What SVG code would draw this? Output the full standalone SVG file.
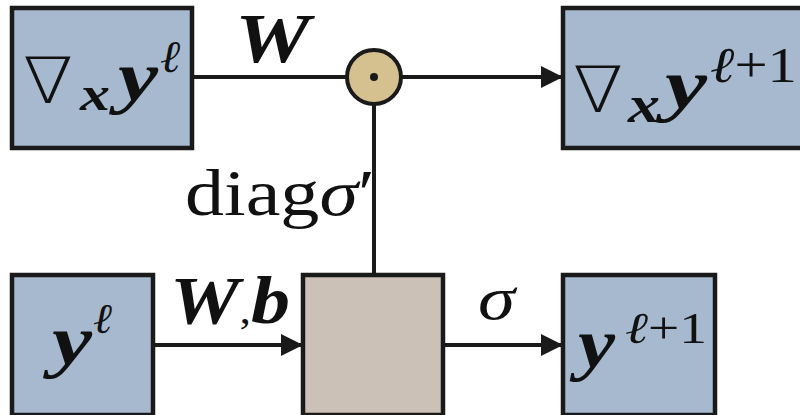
<svg xmlns="http://www.w3.org/2000/svg" width="800" height="415" viewBox="0 0 800 415">
<style>
.box{fill:#a6b9cf;stroke:#1a1a1a;stroke-width:4.5}
.op{fill:#cbc1b7;stroke:#1a1a1a;stroke-width:4.5}
.ln{stroke:#1a1a1a;stroke-width:4;fill:none}
.t{font-family:"Liberation Serif","DejaVu Serif",serif;fill:#111}
.nab{font-family:"DejaVu Sans","Liberation Serif",sans-serif;font-weight:200;fill:#111}
.bi{font-weight:bold;font-style:italic}
.it{font-style:italic}
</style>
<defs>
<marker id="ah" markerWidth="22" markerHeight="22" refX="21" refY="11" orient="auto" markerUnits="userSpaceOnUse">
<path d="M0,0 L22,11 L0,22 Z" fill="#1a1a1a"/>
</marker>
</defs>
<rect width="800" height="415" fill="#fff"/>
<g id="connectors">
<line class="ln" x1="192" y1="77" x2="346" y2="77"/>
<line class="ln" x1="402" y1="77" x2="562" y2="77" marker-end="url(#ah)"/>
<line class="ln" x1="374" y1="104" x2="374" y2="275"/>
<line class="ln" x1="153" y1="345" x2="302" y2="345" marker-end="url(#ah)"/>
<line class="ln" x1="443" y1="345" x2="562" y2="345" marker-end="url(#ah)"/>
<text class="t bi" x="235" y="62" font-size="70" textLength="75" lengthAdjust="spacingAndGlyphs">W</text>
<text class="t" x="185" y="215" font-size="66" textLength="190" lengthAdjust="spacingAndGlyphs">diag<tspan class="it">σ</tspan>′</text>
<text class="t bi" x="170" y="323" font-size="68" textLength="120" lengthAdjust="spacingAndGlyphs">W<tspan font-style="normal" font-weight="normal" font-size="40">,</tspan>b</text>
<text class="t it" x="478" y="319" font-size="62" textLength="37" lengthAdjust="spacingAndGlyphs">σ</text>
</g>
<g id="grad-y-l">
<rect class="box" x="12" y="8" width="180" height="140"/>
<text class="nab" x="23" y="103" font-size="64" textLength="50" lengthAdjust="spacingAndGlyphs">∇</text>
<text class="t bi" x="80" y="110" font-size="48" textLength="30" lengthAdjust="spacingAndGlyphs">x</text>
<text class="t bi" x="118" y="100" font-size="70" textLength="40" lengthAdjust="spacingAndGlyphs">y</text>
<text class="t it" x="160" y="72" font-size="45" textLength="20" lengthAdjust="spacingAndGlyphs">ℓ</text>
</g>
<g id="hadamard">
<circle cx="374" cy="77" r="27" fill="#d5c08f" stroke="#1a1a1a" stroke-width="4"/>
<circle cx="374" cy="77" r="4" fill="#1a1a1a"/>
</g>
<g id="grad-y-l1">
<rect class="box" x="563" y="8" width="250" height="140"/>
<text class="nab" x="573" y="112" font-size="64" textLength="50" lengthAdjust="spacingAndGlyphs">∇</text>
<text class="t bi" x="628" y="122" font-size="52" textLength="32" lengthAdjust="spacingAndGlyphs">x</text>
<text class="t bi" x="665" y="108" font-size="70" textLength="42" lengthAdjust="spacingAndGlyphs">y</text>
<text class="t" x="710" y="82" font-size="50" textLength="87" lengthAdjust="spacingAndGlyphs"><tspan class="it">ℓ</tspan>+1</text>
</g>
<g id="y-l">
<rect class="box" x="12" y="275" width="141" height="140"/>
<text class="t bi" x="52" y="364" font-size="70" textLength="40" lengthAdjust="spacingAndGlyphs">y</text>
<text class="t it" x="93" y="333" font-size="42" textLength="19" lengthAdjust="spacingAndGlyphs">ℓ</text>
</g>
<g id="activation">
<rect class="op" x="303" y="275" width="140" height="140"/>
</g>
<g id="y-l1">
<rect class="box" x="563" y="275" width="152" height="140"/>
<text class="t bi" x="578" y="367" font-size="70" textLength="37" lengthAdjust="spacingAndGlyphs">y</text>
<text class="t" x="625" y="343" font-size="44" textLength="82" lengthAdjust="spacingAndGlyphs"><tspan class="it">ℓ</tspan>+1</text>
</g>
</svg>
